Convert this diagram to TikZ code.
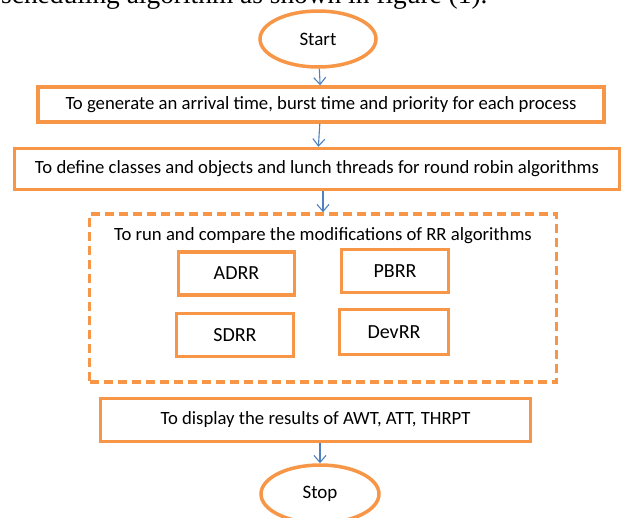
\documentclass[tikz,border=0pt]{standalone}
\usepackage{fontspec}
\setmainfont{Carlito}
\newfontfamily\serifcap{Liberation Serif}
\usetikzlibrary{shapes.geometric,arrows.meta}
\definecolor{borange}{RGB}{247,150,70}
\definecolor{ablue}{RGB}{79,129,189}
\tikzset{
  flowbox/.style={draw=borange,line width=3.5pt,rectangle,inner sep=0pt},
  term/.style={draw=borange,line width=3.5pt,ellipse,inner sep=0pt,font=\fontsize{19}{22}\selectfont},
  algbox/.style={draw=borange,line width=3.5pt,rectangle,inner sep=0pt,font=\fontsize{20}{24}\selectfont},
  conn/.style={draw=ablue,line width=1.1pt,-{Straight Barb[length=7pt,width=12pt]}},
  mtext/.style={font=\fontsize{18.7}{22}\selectfont}
}
\begin{document}
\begin{tikzpicture}[x=1pt,y=-1pt]
\useasboundingbox (0,0) rectangle (621,517);
\begin{scope}
\clip (0,0) rectangle (621,517);
\node[anchor=base west,inner sep=0pt,font=\serifcap\fontsize{27.4}{30}\selectfont] (cap) at (1,3) {scheduling algorithm as shown in figure (1).};
\node[term,minimum width=116pt,minimum height=56pt] (start) at (318,39) {Start};
\node[flowbox,minimum width=566pt,minimum height=35pt,mtext] (gen) at (321,104.5) {To generate an arrival time, burst time and priority for each process};
\node[flowbox,minimum width=605pt,minimum height=41pt,mtext] (def) at (317,169) {To define classes and objects and lunch threads for round robin algorithms};
\node[draw=borange,line width=3.5pt,dashed,dash pattern=on 9pt off 5pt,minimum width=467pt,minimum height=168pt,inner sep=0pt] (run) at (323,298) {};
\node[mtext,inner sep=0pt] (runt) at (323,236) {To run and compare the modifications of RR algorithms};
\node[algbox,minimum width=116pt,minimum height=43pt] (adrr) at (236.5,273.5) {ADRR};
\node[algbox,minimum width=107pt,minimum height=43pt] (pbrr) at (395,271) {PBRR};
\node[algbox,minimum width=117pt,minimum height=43pt] (sdrr) at (235,335) {SDRR};
\node[algbox,minimum width=109pt,minimum height=45pt] (devrr) at (394,332) {DevRR};
\node[flowbox,minimum width=430pt,minimum height=43pt,mtext] (disp) at (315.5,420) {To display the results of AWT, ATT, THRPT};
\node[term,minimum width=118pt,minimum height=58pt] (stop) at (320,494) {Stop};
\draw[conn] (start) -- (gen);
\draw[conn] (gen) -- (def);
\draw[conn] (def.south -| run.north) -- (run.north);
\draw[conn] (disp.south -| stop.north) -- (stop.north);
\end{scope}
\end{tikzpicture}
\end{document}
